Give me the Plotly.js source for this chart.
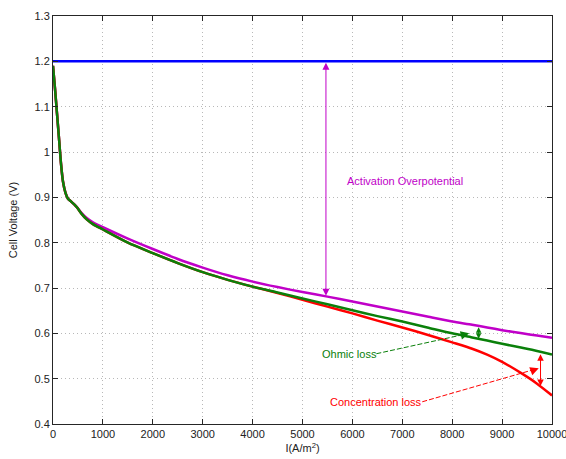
<!DOCTYPE html>
<html>
<head>
<meta charset="utf-8">
<script src="https://cdn.plot.ly/plotly-3.0.1.min.js"></script>
<style>html,body{margin:0;padding:0;background:#fff;}#chart{width:566px;height:459px;}</style>
</head>
<body>
<div id="chart"></div>
<script>
// Current density (A/m^2)
const I_ideal = [0, 10000];
const V_ideal = [1.2, 1.2];

const I_curve = [0, 40, 80, 120, 160, 200, 250, 300, 370, 430, 480, 570, 670, 800, 1000, 1500, 2000, 2500, 3000, 3500, 4000, 4500, 5000, 5500, 6000, 6500, 7000, 7500, 8000, 8400, 8700, 9000, 9400, 9700, 10000];

// Activation losses only
const V_activation = [1.19, 1.14, 1.085, 1.03, 0.975, 0.935, 0.910, 0.897, 0.890, 0.884, 0.878, 0.866, 0.855, 0.845, 0.834, 0.809, 0.786, 0.764, 0.745, 0.728, 0.714, 0.702, 0.691, 0.681, 0.670, 0.659, 0.648, 0.637, 0.626, 0.619, 0.613, 0.607, 0.600, 0.595, 0.590];
// Activation + ohmic losses
const V_ohmic = [1.19, 1.14, 1.085, 1.03, 0.975, 0.935, 0.910, 0.897, 0.890, 0.884, 0.878, 0.864, 0.852, 0.841, 0.829, 0.800, 0.777, 0.755, 0.735, 0.718, 0.703, 0.690, 0.677, 0.664, 0.651, 0.638, 0.626, 0.613, 0.600, 0.591, 0.584, 0.577, 0.568, 0.561, 0.553];
// Activation + ohmic + concentration losses
const V_concentration = [1.19, 1.14, 1.085, 1.03, 0.975, 0.935, 0.910, 0.897, 0.890, 0.884, 0.878, 0.864, 0.852, 0.841, 0.829, 0.800, 0.777, 0.755, 0.735, 0.718, 0.703, 0.689, 0.674, 0.659, 0.644, 0.628, 0.613, 0.597, 0.580, 0.566, 0.553, 0.537, 0.511, 0.489, 0.463];

const xTicks = [0, 1000, 2000, 3000, 4000, 5000, 6000, 7000, 8000, 9000, 10000];
const yTicks = [0.4, 0.5, 0.6, 0.7, 0.8, 0.9, 1, 1.1, 1.2, 1.3];

const C_BLUE = '#0000ff', C_MAG = '#c000c8', C_GREEN = '#0a800a', C_RED = '#ff0000';
const FONT = 'Liberation Sans, Arial, sans-serif';

function curve(x, y, color, w) {
  return {x: x, y: y, type: 'scatter', mode: 'lines',
          line: {color: color, width: w, shape: 'spline', smoothing: 0.7},
          hoverinfo: 'skip', showlegend: false};
}

const data = [
  curve(I_ideal, V_ideal, C_BLUE, 2.5),
  curve(I_curve, V_activation, C_MAG, 2.5),
  curve(I_curve, V_concentration, C_RED, 2.5),
  curve(I_curve, V_ohmic, C_GREEN, 2.5)
];

function dbl(x, y0, y1, color, size) {
  return {x: x, y: y1, ax: x, ay: y0, axref: 'x', ayref: 'y', xref: 'x', yref: 'y',
          text: '', showarrow: true, arrowside: 'end+start', arrowhead: 2,
          arrowsize: size, arrowwidth: 1, arrowcolor: color, standoff: 0, startstandoff: 0};
}
function head(x, y, ax, ay, color) {
  return {x: x, y: y, ax: ax, ay: ay, xref: 'x', yref: 'y', text: '', showarrow: true,
          arrowhead: 2, arrowsize: 1.7, arrowwidth: 1, arrowcolor: color, standoff: 0};
}
function label(x, y, txt, color) {
  return {x: x, y: y, xref: 'x', yref: 'y', text: txt, showarrow: false, xanchor: 'left',
          yanchor: 'middle', font: {family: FONT, size: 11, color: color}};
}

const annotations = [
  dbl(5470, 1.2, 0.683, C_MAG, 1.4),
  label(5850, 0.937, 'Activation Overpotential', C_MAG),
  dbl(8530, 0.617, 0.588, C_GREEN, 1.1),
  label(5360, 0.555, 'Ohmic loss', C_GREEN),
  head(8340, 0.600, -8, 2, C_GREEN),
  dbl(9770, 0.557, 0.484, C_RED, 1.3),
  label(5510, 0.449, 'Concentration loss', C_RED),
  head(9734, 0.523, -8, 3, C_RED)
];

const shapes = [
  {type: 'line', xref: 'x', yref: 'y', x0: 6480, y0: 0.555, x1: 8300, y1: 0.599,
   line: {color: C_GREEN, width: 1, dash: '5px,2px'}},
  {type: 'line', xref: 'x', yref: 'y', x0: 7400, y0: 0.449, x1: 9700, y1: 0.522,
   line: {color: C_RED, width: 1, dash: '5px,2px'}}
];

const axisCommon = {
  showline: true, linecolor: '#262626', linewidth: 1, mirror: 'ticks',
  ticks: 'inside', ticklen: 5, tickcolor: '#262626', tickwidth: 1,
  showgrid: true, gridcolor: '#b8b8b8', griddash: '1px,3px', gridwidth: 1,
  zeroline: false, tickfont: {family: FONT, size: 11, color: '#222'}, automargin: false,
  ticklabeloverflow: 'allow'
};

const layout = {
  width: 566, height: 459,
  margin: {l: 53, r: 14, t: 16, b: 35},
  paper_bgcolor: '#fff', plot_bgcolor: '#fff',
  font: {family: FONT, size: 11, color: '#222'},
  showlegend: false,
  xaxis: Object.assign({}, axisCommon, {
    range: [0, 10000], tickmode: 'array', tickvals: xTicks, ticktext: xTicks.map(String),
    title: {text: 'I(A/m<sup>2</sup>)', font: {family: FONT, size: 11, color: '#222'}, standoff: 5}
  }),
  yaxis: Object.assign({}, axisCommon, {
    range: [0.4, 1.3], tickmode: 'array', tickvals: yTicks, ticktext: yTicks.map(String),
    title: {text: 'Cell Voltage (V)', font: {family: FONT, size: 11, color: '#222'}, standoff: 14}
  }),
  annotations: annotations,
  shapes: shapes
};

Plotly.newPlot('chart', data, layout, {displayModeBar: false, staticPlot: true});
</script>
</body>
</html>
